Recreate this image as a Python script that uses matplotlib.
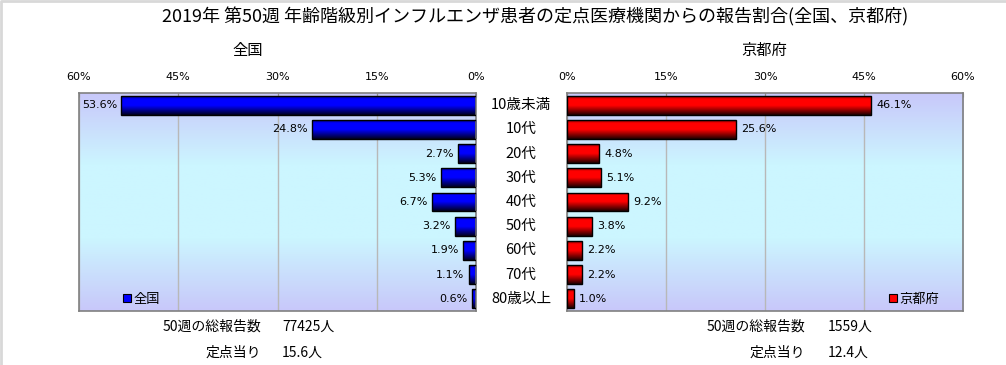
import numpy as np
import matplotlib.pyplot as plt
from matplotlib.colors import LinearSegmentedColormap
from matplotlib.patches import Patch
from matplotlib.lines import Line2D
from matplotlib.transforms import blended_transform_factory

plt.rcParams['font.family'] = ['Noto Sans CJK JP', 'DejaVu Sans']

# data
categories = ['10歳未満', '10代', '20代', '30代', '40代', '50代', '60代', '70代', '80歳以上']
japan = [53.6, 24.8, 2.7, 5.3, 6.7, 3.2, 1.9, 1.1, 0.6]
kyoto = [46.1, 25.6, 4.8, 5.1, 9.2, 3.8, 2.2, 2.2, 1.0]
ticks = [0, 15, 30, 45, 60]
tick_labels = ['0%', '15%', '30%', '45%', '60%']

title = '2019年 第50週 年齢階級別インフルエンザ患者の定点医療機関からの報告割合(全国、京都府)'
footer_japan = ['77425人', '15.6人']
footer_kyoto = ['1559人', '12.4人']
footer_keys = ['50週の総報告数', '定点当り']

bg_cmap = LinearSegmentedColormap.from_list('bg', ['#c8c8fa', '#ccf6ff', '#ccf6ff', '#c8c8fa'])
blue_cmap = LinearSegmentedColormap.from_list(
    'b', [(0, '#000080'), (0.15, '#0000ff'), (0.5, '#0000ff'), (1, '#000020')])
red_cmap = LinearSegmentedColormap.from_list(
    'r', [(0, '#800000'), (0.15, '#ff0000'), (0.5, '#ff0000'), (1, '#200000')])


def shade_bars(ax, bars, cmap):
    # vertical gradient inside each bar
    g = np.linspace(0, 1, 64).reshape(-1, 1)
    for b in bars:
        x0, y0 = b.get_x(), b.get_y()
        w, h = b.get_width(), b.get_height()
        im = ax.imshow(g, cmap=cmap, extent=[x0, x0 + w, y0 + h, y0],
                       aspect='auto', zorder=2, interpolation='bilinear')
        im.set_clip_path(b)


def setup_axes(ax, values, cmap, color, label, left_side):
    y = np.arange(len(values))
    ax.imshow(np.linspace(0, 1, 100).reshape(-1, 1), cmap=bg_cmap,
              extent=[0, 1, 0, 1], transform=ax.transAxes, aspect='auto', zorder=-1)
    bars = ax.barh(y, values, height=0.78, facecolor='none', edgecolor='black',
                   linewidth=1, zorder=3)
    shade_bars(ax, bars, cmap)
    for yi, v in zip(y, values):
        ax.annotate(f'{v:.1f}%', (v, yi), xytext=(-3 if left_side else 4, 0),
                    textcoords='offset points', ha='right' if left_side else 'left',
                    va='center', fontsize=8, family='DejaVu Sans')
    ax.set_ylim(len(values) - 0.5, -0.5)
    ax.set_xlim((60, 0) if left_side else (0, 60))
    ax.set_yticks([])
    ax.xaxis.tick_top()
    ax.set_xticks(ticks)
    ax.set_xticklabels(tick_labels, family='DejaVu Sans')
    ax.tick_params(axis='x', direction='in', length=3, color='#909090', labelsize=8, pad=8)
    ax.grid(axis='x', color='#b8b8b8', linewidth=1)
    ax.set_axisbelow(True)
    for s in ax.spines.values():
        s.set_color('#808080')
        s.set_linewidth(1.2)
    handle = Patch(facecolor=color, edgecolor='black', linewidth=0.8)
    if left_side:
        ax.legend([handle], [label], loc='lower left', bbox_to_anchor=(0.08, -0.03),
                  frameon=False, handlelength=0.6, handleheight=0.6,
                  handletextpad=0.2, fontsize=9.5)
    else:
        ax.legend([handle], [label], loc='lower right', bbox_to_anchor=(0.97, -0.03),
                  frameon=False, handlelength=0.6, handleheight=0.6,
                  handletextpad=0.2, fontsize=9.5)


fig = plt.figure(figsize=(10.06, 3.65), dpi=100)
W, H = 1006, 365
ax1 = fig.add_axes([79 / W, 1 - 311 / H, 397 / W, 218 / H])
ax2 = fig.add_axes([567 / W, 1 - 311 / H, 396 / W, 218 / H])

setup_axes(ax1, japan, blue_cmap, '#0000ff', '全国', True)
setup_axes(ax2, kyoto, red_cmap, '#ff0000', '京都府', False)

# category labels between the two charts
trans = blended_transform_factory(fig.transFigure, ax1.transData)
for i, c in enumerate(categories):
    fig.text(521 / W, i, c, transform=trans, ha='center', va='center', fontsize=10.5)

fig.text(535 / W, 1 - 17 / H, title, ha='center', va='center', fontsize=13)
fig.text(248 / W, 1 - 50 / H, '全国', ha='center', va='center', fontsize=11)
fig.text(764 / W, 1 - 50 / H, '京都府', ha='center', va='center', fontsize=11)

# footers
for k, yy in enumerate([327, 353]):
    fig.text(261 / W, 1 - yy / H, footer_keys[k], ha='right', va='center', fontsize=10)
    fig.text(282 / W, 1 - yy / H, footer_japan[k], ha='left', va='center', fontsize=10)
    fig.text(805 / W, 1 - yy / H, footer_keys[k], ha='right', va='center', fontsize=10)
    fig.text(828 / W, 1 - yy / H, footer_kyoto[k], ha='left', va='center', fontsize=10)

# light frame on top and left edges only
fig.add_artist(Line2D([0.001, 0.001, 1], [0, 0.997, 0.997], transform=fig.transFigure,
                      color='#d8d8d8', linewidth=2))

fig.savefig('out.png', dpi=100)
